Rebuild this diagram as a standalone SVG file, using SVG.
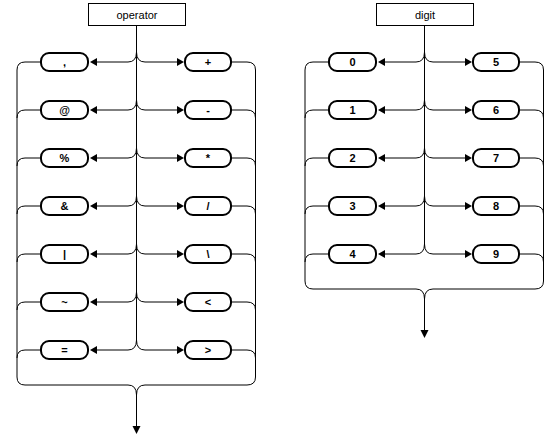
<svg xmlns="http://www.w3.org/2000/svg" width="560" height="440" viewBox="0 0 560 440">
<style>
.title{fill:#fff;stroke:#000;stroke-width:1}
.tt{font-family:"Liberation Sans",Arial,sans-serif;font-size:11px;fill:#000;text-anchor:middle}
.node rect{fill:#fff;stroke:#000;stroke-width:2}
.lb{font-family:"Liberation Sans",Arial,sans-serif;font-size:11px;font-weight:bold;fill:#000;text-anchor:middle}
.ln{fill:none;stroke:#000;stroke-width:1}
.ah{fill:#000;stroke:none}
</style>
<rect width="560" height="440" fill="#fff"/>

<!-- OPERATOR diagram -->
<g id="operator-diagram">
<g id="connectors-operator">
<path class="ln" d="M136.5,26 V340"/>
<path class="ln" d="M136.5,52 Q136.5,62 128,62 H97 M136.5,52 Q136.5,62 145,62 H177"/>
<path class="ln" d="M136.5,100 Q136.5,110 128,110 H97 M136.5,100 Q136.5,110 145,110 H177"/>
<path class="ln" d="M136.5,148 Q136.5,158 128,158 H97 M136.5,148 Q136.5,158 145,158 H177"/>
<path class="ln" d="M136.5,196 Q136.5,206 128,206 H97 M136.5,196 Q136.5,206 145,206 H177"/>
<path class="ln" d="M136.5,244 Q136.5,254 128,254 H97 M136.5,244 Q136.5,254 145,254 H177"/>
<path class="ln" d="M136.5,292 Q136.5,302 128,302 H97 M136.5,292 Q136.5,302 145,302 H177"/>
<path class="ln" d="M136.5,340 Q136.5,350 128,350 H97 M136.5,340 Q136.5,350 145,350 H177"/>
<path class="ln" d="M40,62 H25 Q17,62 17,70 M40,110 H25 Q17,110 17,118 M40,158 H25 Q17,158 17,166 M40,206 H25 Q17,206 17,214 M40,254 H25 Q17,254 17,262 M40,302 H25 Q17,302 17,310 M40,350 H25 Q17,350 17,358"/>
<path class="ln" d="M232,62 H247 Q255.5,62 255.5,70 M232,110 H247 Q255.5,110 255.5,118 M232,158 H247 Q255.5,158 255.5,166 M232,206 H247 Q255.5,206 255.5,214 M232,254 H247 Q255.5,254 255.5,262 M232,302 H247 Q255.5,302 255.5,310 M232,350 H247 Q255.5,350 255.5,358"/>
<path class="ln" d="M17,70 V377 Q17,385 25,385 H128 Q136.5,385 136.5,395 M255.5,70 V377 Q255.5,385 247,385 H145 Q136.5,385 136.5,395 V426"/>
<path class="ah" d="M90,62 L97,58 L97,66 Z M90,110 L97,106 L97,114 Z M90,158 L97,154 L97,162 Z M90,206 L97,202 L97,210 Z M90,254 L97,250 L97,258 Z M90,302 L97,298 L97,306 Z M90,350 L97,346 L97,354 Z"/>
<path class="ah" d="M184,62 L177,58 L177,66 Z M184,110 L177,106 L177,114 Z M184,158 L177,154 L177,162 Z M184,206 L177,202 L177,210 Z M184,254 L177,250 L177,258 Z M184,302 L177,298 L177,306 Z M184,350 L177,346 L177,354 Z"/>
<path class="ah" d="M132.5,426 H140.5 L136.5,434 Z"/>
</g>
<g id="operator"><rect class="title" x="88.5" y="3.5" width="97" height="22"/><text class="tt" x="137" y="18.5">operator</text></g>
<g id="op-comma" class="node"><rect x="41" y="53" width="47" height="18" rx="8"/><text class="lb" x="64.5" y="66">,</text></g>
<g id="op-at" class="node"><rect x="41" y="101" width="47" height="18" rx="8"/><text class="lb" x="64.5" y="114">@</text></g>
<g id="op-percent" class="node"><rect x="41" y="149" width="47" height="18" rx="8"/><text class="lb" x="64.5" y="162">%</text></g>
<g id="op-amp" class="node"><rect x="41" y="197" width="47" height="18" rx="8"/><text class="lb" x="64.5" y="210">&amp;</text></g>
<g id="op-bar" class="node"><rect x="41" y="245" width="47" height="18" rx="8"/><text class="lb" x="64.5" y="258">|</text></g>
<g id="op-tilde" class="node"><rect x="41" y="293" width="47" height="18" rx="8"/><text class="lb" x="64.5" y="306">~</text></g>
<g id="op-eq" class="node"><rect x="41" y="341" width="47" height="18" rx="8"/><text class="lb" x="64.5" y="354">=</text></g>
<g id="op-plus" class="node"><rect x="185" y="53" width="46" height="18" rx="8"/><text class="lb" x="208" y="66">+</text></g>
<g id="op-minus" class="node"><rect x="185" y="101" width="46" height="18" rx="8"/><text class="lb" x="208" y="114">-</text></g>
<g id="op-star" class="node"><rect x="185" y="149" width="46" height="18" rx="8"/><text class="lb" x="208" y="162">*</text></g>
<g id="op-slash" class="node"><rect x="185" y="197" width="46" height="18" rx="8"/><text class="lb" x="208" y="210">/</text></g>
<g id="op-backslash" class="node"><rect x="185" y="245" width="46" height="18" rx="8"/><text class="lb" x="208" y="258">\</text></g>
<g id="op-lt" class="node"><rect x="185" y="293" width="46" height="18" rx="8"/><text class="lb" x="208" y="306">&lt;</text></g>
<g id="op-gt" class="node"><rect x="185" y="341" width="46" height="18" rx="8"/><text class="lb" x="208" y="354">&gt;</text></g>
</g>

<!-- DIGIT diagram -->
<g id="digit-diagram" transform="translate(288,0)">
<g id="connectors-digit">
<path class="ln" d="M136.5,26 V244"/>
<path class="ln" d="M136.5,52 Q136.5,62 128,62 H97 M136.5,52 Q136.5,62 145,62 H177"/>
<path class="ln" d="M136.5,100 Q136.5,110 128,110 H97 M136.5,100 Q136.5,110 145,110 H177"/>
<path class="ln" d="M136.5,148 Q136.5,158 128,158 H97 M136.5,148 Q136.5,158 145,158 H177"/>
<path class="ln" d="M136.5,196 Q136.5,206 128,206 H97 M136.5,196 Q136.5,206 145,206 H177"/>
<path class="ln" d="M136.5,244 Q136.5,254 128,254 H97 M136.5,244 Q136.5,254 145,254 H177"/>
<path class="ln" d="M40,62 H25 Q17,62 17,70 M40,110 H25 Q17,110 17,118 M40,158 H25 Q17,158 17,166 M40,206 H25 Q17,206 17,214 M40,254 H25 Q17,254 17,262"/>
<path class="ln" d="M232,62 H247 Q255.5,62 255.5,70 M232,110 H247 Q255.5,110 255.5,118 M232,158 H247 Q255.5,158 255.5,166 M232,206 H247 Q255.5,206 255.5,214 M232,254 H247 Q255.5,254 255.5,262"/>
<path class="ln" d="M17,70 V281 Q17,289 25,289 H128 Q136.5,289 136.5,299 M255.5,70 V281 Q255.5,289 247,289 H145 Q136.5,289 136.5,299 V330"/>
<path class="ah" d="M90,62 L97,58 L97,66 Z M90,110 L97,106 L97,114 Z M90,158 L97,154 L97,162 Z M90,206 L97,202 L97,210 Z M90,254 L97,250 L97,258 Z"/>
<path class="ah" d="M184,62 L177,58 L177,66 Z M184,110 L177,106 L177,114 Z M184,158 L177,154 L177,162 Z M184,206 L177,202 L177,210 Z M184,254 L177,250 L177,258 Z"/>
<path class="ah" d="M132.5,330 H140.5 L136.5,338 Z"/>
</g>
<g id="digit"><rect class="title" x="88.5" y="3.5" width="97" height="22"/><text class="tt" x="137" y="18.5">digit</text></g>
<g id="d0" class="node"><rect x="41" y="53" width="47" height="18" rx="8"/><text class="lb" x="64.5" y="66">0</text></g>
<g id="d1" class="node"><rect x="41" y="101" width="47" height="18" rx="8"/><text class="lb" x="64.5" y="114">1</text></g>
<g id="d2" class="node"><rect x="41" y="149" width="47" height="18" rx="8"/><text class="lb" x="64.5" y="162">2</text></g>
<g id="d3" class="node"><rect x="41" y="197" width="47" height="18" rx="8"/><text class="lb" x="64.5" y="210">3</text></g>
<g id="d4" class="node"><rect x="41" y="245" width="47" height="18" rx="8"/><text class="lb" x="64.5" y="258">4</text></g>
<g id="d5" class="node"><rect x="185" y="53" width="46" height="18" rx="8"/><text class="lb" x="208" y="66">5</text></g>
<g id="d6" class="node"><rect x="185" y="101" width="46" height="18" rx="8"/><text class="lb" x="208" y="114">6</text></g>
<g id="d7" class="node"><rect x="185" y="149" width="46" height="18" rx="8"/><text class="lb" x="208" y="162">7</text></g>
<g id="d8" class="node"><rect x="185" y="197" width="46" height="18" rx="8"/><text class="lb" x="208" y="210">8</text></g>
<g id="d9" class="node"><rect x="185" y="245" width="46" height="18" rx="8"/><text class="lb" x="208" y="258">9</text></g>
</g>
</svg>
